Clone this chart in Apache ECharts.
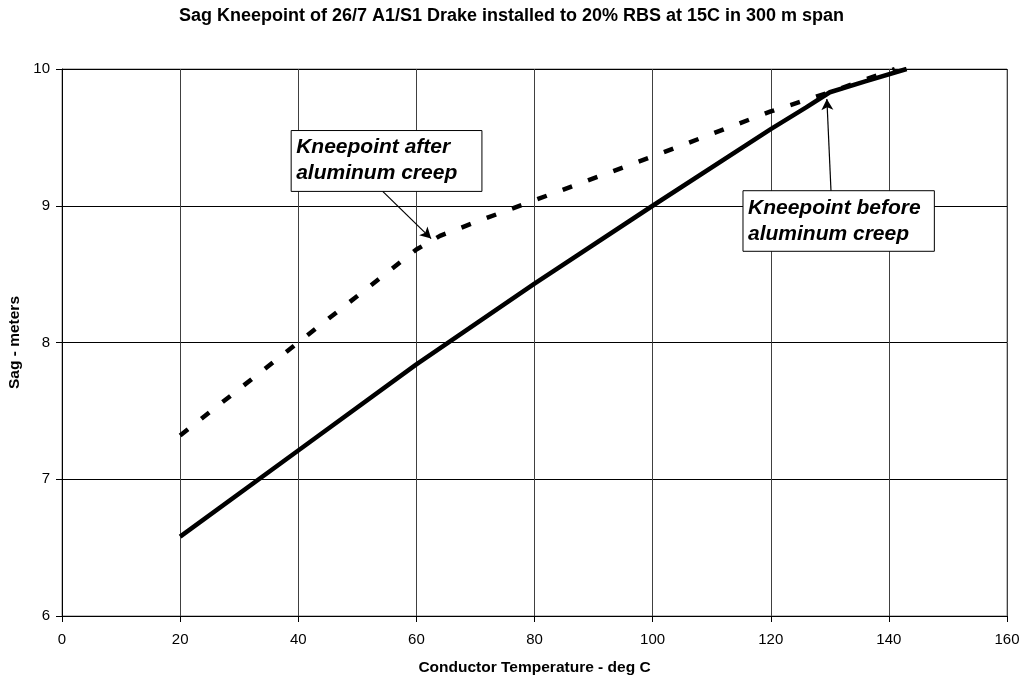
<!DOCTYPE html>
<html>
<head>
<meta charset="utf-8">
<script src="https://cdn.jsdelivr.net/npm/echarts@6/dist/echarts.min.js"></script>
<style>
  html, body { margin: 0; padding: 0; background: #fff; }
  #main { width: 1023px; height: 677px; }
</style>
</head>
<body>
<div id="main"></div>
<script>
// sag before creep (solid)
var tempBefore = [20, 40, 60, 80, 100, 120, 126, 130, 136, 143];
var sagBefore = [6.58, 7.21, 7.84, 8.43, 9.0, 9.56, 9.72, 9.83, 9.91, 10.0];
// sag after creep (dashed)
var tempAfter = [20, 40, 60, 64, 70, 80, 100, 120, 130, 141];
var sagAfter = [7.32, 8.0, 8.68, 8.78, 8.88, 9.04, 9.36, 9.69, 9.83, 10.0];

var xTicks = [0, 20, 40, 60, 80, 100, 120, 140, 160];
var yTicks = [6, 7, 8, 9, 10];

// annotation boxes in data units: [x1, y1, x2, y2], arrow from / to
var noteAfter = { text: 'Kneepoint after\naluminum creep', box: [38.8, 9.55, 71.1, 9.105], from: [54.3, 9.105], to: [62.5, 8.76] };
var noteBefore = { text: 'Kneepoint before\naluminum creep', box: [115.3, 9.11, 147.7, 8.667], from: [130.2, 9.11], to: [129.5, 9.78] };

function pairs(xs, ys) {
  return xs.map(function (x, i) { return [x, ys[i]]; });
}

var chart = echarts.init(document.getElementById('main'));
var font = 'Liberation Sans, Arial, sans-serif';

var option = {
  animation: false,
  title: {
    text: 'Sag Kneepoint of 26/7 A1/S1 Drake installed to 20% RBS at 15C in 300 m span',
    left: 'center',
    top: 2,
    textStyle: { fontFamily: font, fontSize: 18, fontWeight: 'bold', color: '#000' }
  },
  grid: {
    left: 62, right: 16, top: 69, bottom: 61,
    outerBoundsMode: 'none', containLabel: false,
    show: true, borderColor: '#808080', borderWidth: 1
  },
  xAxis: {
    type: 'value',
    min: xTicks[0], max: xTicks[xTicks.length - 1], interval: 20,
    name: 'Conductor Temperature - deg C',
    nameLocation: 'middle',
    nameGap: 44,
    nameTextStyle: { fontFamily: font, fontSize: 15.5, fontWeight: 'bold', color: '#000' },
    axisLine: { show: true, lineStyle: { color: '#000' } },
    axisTick: { show: true, length: 6, lineStyle: { color: '#000' } },
    axisLabel: { fontFamily: font, fontSize: 15, color: '#000', margin: 16 },
    splitLine: { show: true, lineStyle: { color: '#404040', width: 1 } }
  },
  yAxis: {
    type: 'value',
    min: yTicks[0], max: yTicks[yTicks.length - 1], interval: 1,
    name: 'Sag - meters',
    nameLocation: 'middle',
    nameGap: 34,
    nameTextStyle: { fontFamily: font, fontSize: 15.5, fontWeight: 'bold', color: '#000' },
    axisLine: { show: true, lineStyle: { color: '#000' } },
    axisTick: { show: true, length: 6, lineStyle: { color: '#000' } },
    axisLabel: { fontFamily: font, fontSize: 15, color: '#000', margin: 12 },
    splitLine: { show: true, lineStyle: { color: '#000', width: 1 } }
  },
  series: [
    {
      type: 'line',
      data: pairs(tempBefore, sagBefore),
      showSymbol: false,
      lineStyle: { color: '#000', width: 4.5 },
      z: 3,
      markLine: {
        silent: true,
        symbolSize: [9, 11],
        label: { show: false },
        lineStyle: { color: '#000', width: 1.2, type: 'solid' },
        data: [
          [{ coord: noteAfter.from, symbol: 'none' }, { coord: noteAfter.to, symbol: 'arrow' }],
          [{ coord: noteBefore.from, symbol: 'none' }, { coord: noteBefore.to, symbol: 'arrow' }]
        ]
      }
    },
    {
      type: 'line',
      data: pairs(tempAfter, sagAfter),
      showSymbol: false,
      lineStyle: { color: '#000', width: 4.5, type: [10, 17] },
      z: 2
    }
  ]
};
chart.setOption(option);

// annotation boxes positioned from data coordinates
function noteGraphic(note) {
  var p1 = chart.convertToPixel({ gridIndex: 0 }, [note.box[0], note.box[1]]);
  var p2 = chart.convertToPixel({ gridIndex: 0 }, [note.box[2], note.box[3]]);
  return {
    type: 'group',
    x: p1[0], y: p1[1],
    z: 100,
    children: [
      {
        type: 'rect',
        shape: { x: 0, y: 0, width: p2[0] - p1[0], height: p2[1] - p1[1] },
        style: { fill: '#fff', stroke: '#000', lineWidth: 1 }
      },
      {
        type: 'text',
        x: 5, y: 4,
        style: {
          text: note.text,
          font: 'italic bold 21px ' + font,
          fill: '#000',
          lineHeight: 26
        }
      }
    ]
  };
}
chart.setOption({ graphic: [noteGraphic(noteAfter), noteGraphic(noteBefore)] });
</script>
</body>
</html>
